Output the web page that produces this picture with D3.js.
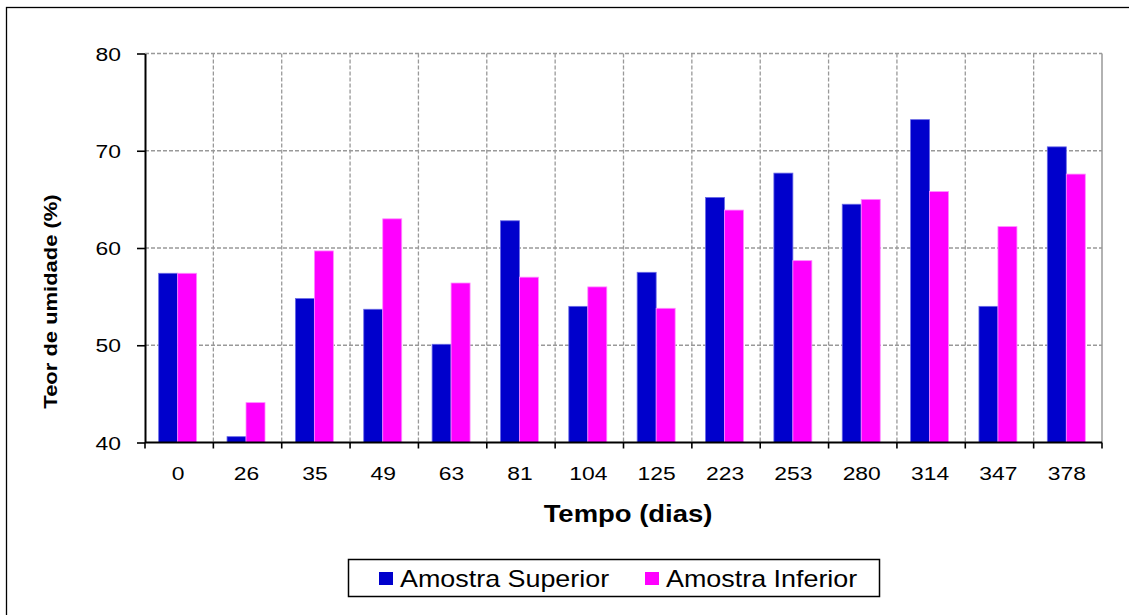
<!DOCTYPE html>
<html>
<head>
<meta charset="utf-8">
<script src="https://cdn.jsdelivr.net/npm/d3@7"></script>
<style>
  html, body { margin: 0; padding: 0; background: #fff; }
  svg { display: block; font-family: "Liberation Sans", Arial, sans-serif; }
</style>
</head>
<body>
<svg id="chart" width="1129" height="615"></svg>
<script>
// Sampling days
const categories = ["0", "26", "35", "49", "63", "81", "104", "125", "223", "253", "280", "314", "347", "378"];
// Moisture content (%) per sample layer
const superior = [57.4, 40.6, 54.8, 53.7, 50.1, 62.8, 54.0, 57.5, 65.2, 67.7, 64.5, 73.2, 54.0, 70.4];
const inferior = [57.4, 44.1, 59.7, 63.0, 56.4, 57.0, 56.0, 53.8, 63.9, 58.7, 65.0, 65.8, 62.2, 67.6];
const seriesNames = ["Amostra Superior", "Amostra Inferior"];
const seriesColors = ["#0000cc", "#ff00ff"];
const seriesStrokes = ["#6a6ae6", "#ff8cff"];
const yTicks = [40, 50, 60, 70, 80];

const svg = d3.select("#chart");

// Outer frame
svg.append("rect")
  .attr("x", 6.5).attr("y", 7.5)
  .attr("width", 1140).attr("height", 640)
  .attr("fill", "none").attr("stroke", "#000").attr("stroke-width", 1.3);

const plot = { left: 145, right: 1102, top: 53.5, bottom: 442.5 };

const x0 = d3.scaleBand().domain(categories).range([plot.left, plot.right]).padding(0);
const x1 = d3.scaleBand().domain(seriesNames).range([0, x0.bandwidth()])
  .paddingInner(0).paddingOuter(0.8).align(0.45);
const y = d3.scaleLinear().domain([40, 80]).range([plot.bottom, plot.top]);

// Stretch text horizontally along its writing direction
function stretch(sel, k) {
  sel.each(function () {
    const len = this.getComputedTextLength();
    d3.select(this).attr("textLength", len * k).attr("lengthAdjust", "spacingAndGlyphs");
  });
}

// Grid
const grid = svg.append("g").attr("stroke", "#999").attr("stroke-width", 1.3)
  .attr("stroke-dasharray", "4,2").attr("fill", "none");
grid.selectAll("line.h").data(yTicks.slice(1)).join("line")
  .attr("x1", plot.left).attr("x2", plot.right)
  .attr("y1", d => y(d)).attr("y2", d => y(d));
grid.selectAll("line.v").data(categories.slice(1)).join("line")
  .attr("x1", d => x0(d)).attr("x2", d => x0(d))
  .attr("y1", plot.top).attr("y2", plot.bottom);
svg.append("line")
  .attr("x1", plot.right).attr("x2", plot.right)
  .attr("y1", plot.top).attr("y2", plot.bottom)
  .attr("stroke", "#999").attr("stroke-width", 1.5);

// Bars
const rows = categories.map((c, i) => ({ cat: c, vals: [superior[i], inferior[i]] }));
const groups = svg.append("g").selectAll("g").data(rows).join("g")
  .attr("transform", d => `translate(${x0(d.cat)},0)`);
groups.selectAll("rect").data(d => d.vals.map((v, j) => ({ v, j })))
  .join("rect")
  .attr("x", d => x1(seriesNames[d.j]))
  .attr("width", x1.bandwidth())
  .attr("y", d => y(d.v))
  .attr("height", d => y(40) - y(d.v))
  .attr("fill", d => seriesColors[d.j])
  .attr("stroke", d => seriesStrokes[d.j])
  .attr("stroke-width", 0.8);

// Axes
const yAxis = svg.append("g").attr("transform", `translate(${plot.left},0)`)
  .call(d3.axisLeft(y).tickValues(yTicks).tickSize(8).tickSizeOuter(0).tickPadding(16));
yAxis.select(".domain").attr("stroke", "#000").attr("stroke-width", 2);
yAxis.selectAll(".tick line").attr("stroke", "#000").attr("stroke-width", 1.6);
yAxis.selectAll(".tick text")
  .attr("font-size", 18).attr("fill", "#000")
  .attr("font-family", "Liberation Sans, Arial, sans-serif")
  .attr("dy", "0.37em")
  .call(stretch, 1.27);

const xAxis = svg.append("g").attr("transform", `translate(0,${plot.bottom})`);
xAxis.append("line")
  .attr("x1", plot.left).attr("x2", plot.right)
  .attr("stroke", "#000").attr("stroke-width", 2);
xAxis.selectAll("line.tk").data(categories.concat(["end"])).join("line")
  .attr("class", "tk")
  .attr("x1", (d, i) => i < categories.length ? x0(d) : plot.right)
  .attr("x2", (d, i) => i < categories.length ? x0(d) : plot.right)
  .attr("y1", 0).attr("y2", 6)
  .attr("stroke", "#000").attr("stroke-width", 1.6);
xAxis.selectAll("text").data(categories).join("text")
  .attr("x", d => x0(d) + x0.bandwidth() / 2 - 1)
  .attr("y", 37.5)
  .attr("text-anchor", "middle")
  .attr("font-size", 18)
  .attr("fill", "#000")
  .text(d => d)
  .call(stretch, 1.27);

// Axis titles
svg.append("text")
  .attr("x", 628).attr("y", 522)
  .attr("text-anchor", "middle")
  .attr("font-size", 24.5).attr("font-weight", "bold")
  .text("Tempo (dias)")
  .call(stretch, 1.12);

svg.append("text")
  .attr("transform", "translate(57,301.5) rotate(-90)")
  .attr("text-anchor", "middle")
  .attr("font-size", 18).attr("font-weight", "bold")
  .text("Teor de umidade (%)")
  .call(stretch, 1.22);

// Legend
const legend = svg.append("g");
legend.append("rect")
  .attr("x", 348.5).attr("y", 559.5).attr("width", 531).attr("height", 37)
  .attr("fill", "#fff").attr("stroke", "#000").attr("stroke-width", 1.5);
const legendX = [379, 645];
seriesNames.forEach((name, i) => {
  legend.append("rect")
    .attr("x", legendX[i]).attr("y", 572)
    .attr("width", 14).attr("height", 13)
    .attr("fill", seriesColors[i]);
  legend.append("text")
    .attr("x", legendX[i] + 21).attr("y", 587)
    .attr("font-size", 24).attr("fill", "#000")
    .text(name)
    .call(stretch, 1.12);
});
</script>
</body>
</html>
